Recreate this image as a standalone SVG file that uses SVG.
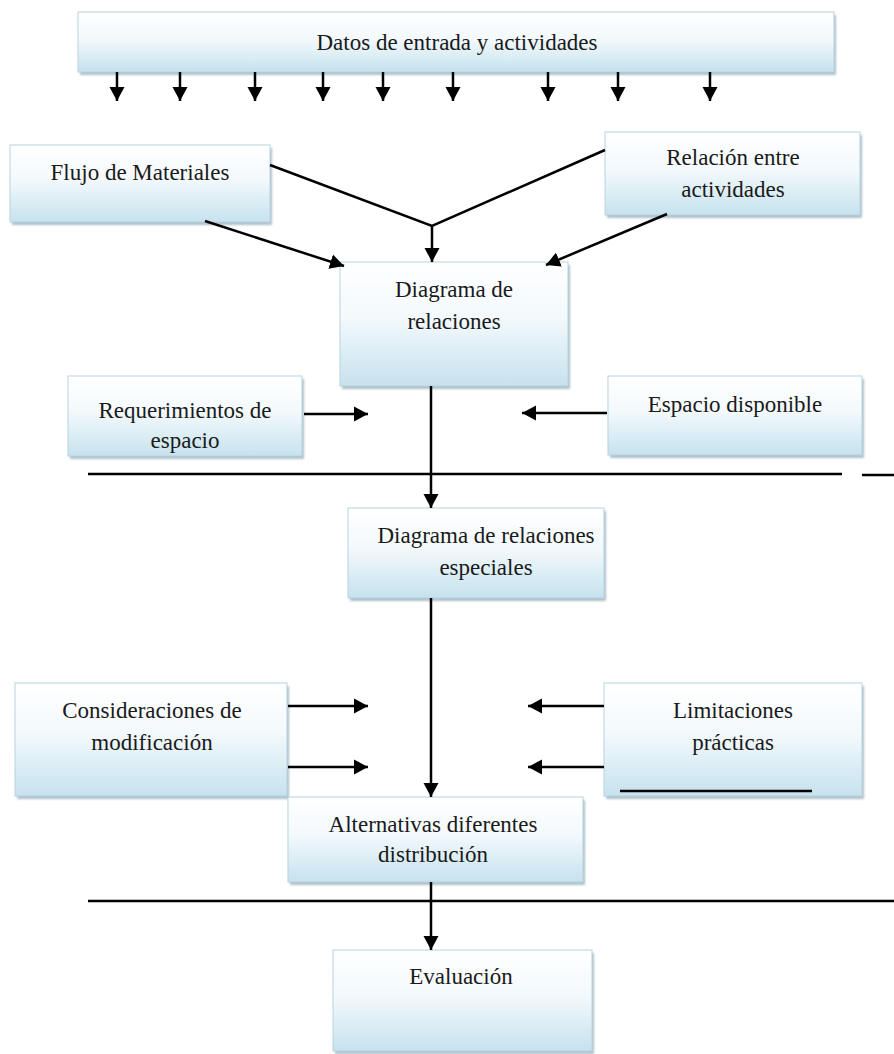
<svg xmlns="http://www.w3.org/2000/svg" width="894" height="1054" viewBox="0 0 894 1054">
<defs>
<linearGradient id="g" x1="0" y1="0" x2="0" y2="1">
<stop offset="0" stop-color="#ffffff"/>
<stop offset="0.45" stop-color="#f3f9fc"/>
<stop offset="1" stop-color="#c6e2ee"/>
</linearGradient>
<filter id="sh" x="-5%" y="-5%" width="110%" height="120%">
<feGaussianBlur stdDeviation="1.2"/>
</filter>
<marker id="ah" viewBox="0 0 14 17" refX="14" refY="8.5" markerWidth="14" markerHeight="17" markerUnits="userSpaceOnUse" orient="auto">
<path d="M0,1 L14,8.5 L0,16 Z" fill="#000"/>
</marker>
</defs>
<style>
.box{fill:url(#g);stroke:#b8d3df;stroke-width:1}
.shadow{fill:#93adb9;opacity:0.75;filter:url(#sh)}
.t{font-family:"Liberation Serif","Times New Roman",serif;font-size:23px;fill:#1a1a1a;text-anchor:middle}
.c{stroke:#000;stroke-width:2.5;fill:none}
.ca{stroke:#000;stroke-width:2.5;fill:none;marker-end:url(#ah)}
.thin{stroke:#000;stroke-width:2.5;fill:none}
</style>
<rect width="894" height="1054" fill="#fff"/>

<g id="n-datos">
<rect class="shadow" x="80" y="15" width="756" height="60"/>
<rect class="box" x="78" y="12" width="756" height="60"/>
<text class="t" x="457" y="50">Datos de entrada y actividades</text>
</g>

<g id="n-flujo">
<rect class="shadow" x="12" y="148" width="260" height="77"/>
<rect class="box" x="10" y="145" width="260" height="77"/>
<text class="t" x="140" y="180">Flujo de Materiales</text>
</g>

<g id="n-relacion">
<rect class="shadow" x="607" y="135" width="255" height="83"/>
<rect class="box" x="605" y="132" width="255" height="83"/>
<text class="t" x="733" y="165">Relación entre</text>
<text class="t" x="733" y="197">actividades</text>
</g>

<g id="n-diagrama">
<rect class="shadow" x="342" y="265" width="228" height="124"/>
<rect class="box" x="340" y="262" width="228" height="124"/>
<text class="t" x="454" y="297">Diagrama de</text>
<text class="t" x="454" y="329">relaciones</text>
</g>

<g id="n-requerimientos">
<rect class="shadow" x="70" y="379" width="234" height="80"/>
<rect class="box" x="68" y="376" width="234" height="80"/>
<text class="t" x="185" y="418">Requerimientos de</text>
<text class="t" x="185" y="448">espacio</text>
</g>

<g id="n-espacio">
<rect class="shadow" x="610" y="379" width="254" height="79"/>
<rect class="box" x="608" y="376" width="254" height="79"/>
<text class="t" x="735" y="412">Espacio disponible</text>
</g>

<g id="n-especiales">
<rect class="shadow" x="350" y="511" width="256" height="90"/>
<rect class="box" x="348" y="508" width="256" height="90"/>
<text class="t" x="486" y="543">Diagrama de relaciones</text>
<text class="t" x="486" y="575">especiales</text>
</g>

<g id="n-consideraciones">
<rect class="shadow" x="17" y="686" width="272" height="113"/>
<rect class="box" x="15" y="683" width="272" height="113"/>
<text class="t" x="152" y="718">Consideraciones de</text>
<text class="t" x="152" y="750">modificación</text>
</g>

<g id="n-limitaciones">
<rect class="shadow" x="606" y="686" width="258" height="113"/>
<rect class="box" x="604" y="683" width="258" height="113"/>
<text class="t" x="733" y="718">Limitaciones</text>
<text class="t" x="733" y="750">prácticas</text>
</g>

<g id="n-alternativas">
<rect class="shadow" x="290" y="800" width="295" height="85"/>
<rect class="box" x="288" y="797" width="295" height="85"/>
<text class="t" x="433" y="832">Alternativas diferentes</text>
<text class="t" x="433" y="862">distribución</text>
</g>

<g id="n-evaluacion">
<rect class="shadow" x="335" y="953" width="259" height="101"/>
<rect class="box" x="333" y="950" width="259" height="101"/>
<text class="t" x="461" y="984">Evaluación</text>
</g>

<g id="connectors">
<path class="ca" d="M117,72 V101"/>
<path class="ca" d="M180,72 V101"/>
<path class="ca" d="M255,72 V101"/>
<path class="ca" d="M323,72 V101"/>
<path class="ca" d="M383,72 V101"/>
<path class="ca" d="M453,72 V101"/>
<path class="ca" d="M548,72 V101"/>
<path class="ca" d="M618,72 V101"/>
<path class="ca" d="M710,72 V101"/>

<path class="c" d="M270,165 L432,226 L605,150"/>
<path class="ca" d="M432,226 V262"/>
<path class="ca" d="M205,221 L344,266"/>
<path class="ca" d="M667,214 L546,265"/>

<path class="ca" d="M431,386 V508"/>
<path class="ca" d="M304,414 H368"/>
<path class="ca" d="M607,413 H522"/>
<path class="thin" d="M88,474 H842"/>
<path class="thin" d="M862,475 H894"/>

<path class="ca" d="M431,598 V797"/>
<path class="ca" d="M288,706 H368"/>
<path class="ca" d="M288,767 H368"/>
<path class="ca" d="M604,706 H528"/>
<path class="ca" d="M604,767 H528"/>
<path class="thin" d="M620,791 H812" stroke="#333"/>

<path class="thin" d="M88,901 H894"/>
<path class="ca" d="M431,882 V950"/>
</g>
</svg>
